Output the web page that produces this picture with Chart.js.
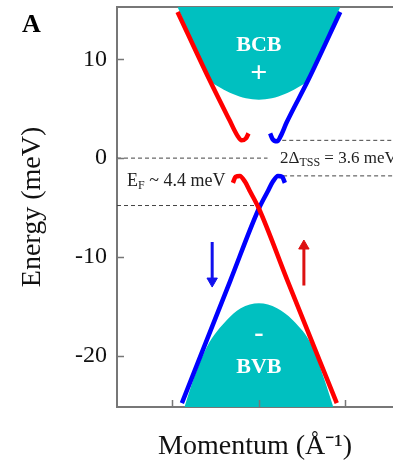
<!DOCTYPE html>
<html>
<head>
<meta charset="utf-8">
<script src="https://cdn.jsdelivr.net/npm/chart.js@4.4.1/dist/chart.umd.min.js"></script>
<style>
  body { margin: 0; background: #fff; overflow: hidden; }
  #wrap { width: 393px; height: 465px; }
</style>
</head>
<body>
<div id="wrap"><canvas id="chart"></canvas></div>
<script>
// axis ticks
const ticksX = [-1, 0, 1];
const ticksY = [-20, -10, 0, 10];

// surface state branches, momentum k and energy E (meV)
const redUpK = [-0.94, -0.57, -0.34, -0.25, -0.20, -0.15, -0.12];
const redUpE = [14.8, 7.9, 3.85, 2.3, 1.8, 2.0, 2.5];
const blueUpK = [0.13, 0.16, 0.21, 0.25, 0.32, 0.57, 0.94];
const blueUpE = [2.5, 1.9, 1.7, 2.2, 3.6, 7.9, 14.8];
const redLowK = [-0.30, -0.27, -0.22, -0.16, -0.10, 0, 0.33, 0.90];
const redLowE = [-2.5, -1.9, -1.8, -2.4, -3.4, -5.1, -12.4, -24.8];
const blueLowK = [-0.89, -0.33, 0, 0.10, 0.16, 0.22, 0.27, 0.30];
const blueLowE = [-24.8, -12.4, -5.1, -3.4, -2.4, -1.8, -1.9, -2.5];

// bulk bands (edge of the shaded areas)
const bcbK = [-0.94, -0.56, -0.44, -0.30, -0.15, 0, 0.15, 0.30, 0.44, 0.56, 0.94];
const bcbE = [15.3, 7.9, 7.1, 6.5, 6.05, 5.9, 6.05, 6.5, 7.1, 7.9, 15.3];
const bvbK = [-0.86, -0.76, -0.60, -0.37, -0.21, 0, 0.21, 0.39, 0.62, 0.76, 0.86];
const bvbE = [-25.2, -22.5, -19.1, -16.4, -15.2, -14.7, -15.2, -16.4, -19.1, -22.5, -25.2];

// dashed reference levels: [kFrom, kTo, E]
const levels = [
  [-1.64, 0.10, 0],
  [0.27, 1.55, 1.8],
  [0.28, 1.55, -1.8],
  [-1.64, 0.0, -4.8]
];

// spin arrows: k, E tail, E head
const spinDownArrow = [-0.54, -8.5, -12.45];
const spinUpArrow = [0.52, -12.9, -8.9];

const xMin = -1.64, xMax = 1.55, yMin = -25.2, yMax = 15.3;
const axisColor = '#777';
const teal = '#00c0c0';
const serif = "'Liberation Serif', 'Times New Roman', serif";

const pts = (ks, es) => ks.map((k, i) => ({ x: k, y: es[i] }));

function curve(ks, es, color) {
  return {
    data: pts(ks, es),
    borderColor: color,
    borderWidth: 4.5,
    pointRadius: 0,
    cubicInterpolationMode: 'monotone',
    fill: false,
    order: 1
  };
}

function band(ks, es, fill) {
  return {
    data: pts(ks, es),
    borderWidth: 0,
    borderColor: teal,
    backgroundColor: teal,
    pointRadius: 0,
    cubicInterpolationMode: 'monotone',
    fill: fill,
    order: 10
  };
}

const datasets = [
  band(bcbK, bcbE, 'end'),
  band(bvbK, bvbE, 'start'),
  curve(redUpK, redUpE, '#ff0000'),
  curve(blueUpK, blueUpE, '#0000ff'),
  curve(redLowK, redLowE, '#ff0000'),
  curve(blueLowK, blueLowE, '#0000ff')
];

levels.forEach(l => {
  datasets.push({
    data: [{ x: l[0], y: l[2] }, { x: l[1], y: l[2] }],
    borderColor: '#444',
    borderWidth: 1,
    borderDash: [4, 3],
    pointRadius: 0,
    fill: false,
    order: 5
  });
});

function arrow(a, color, rot) {
  return {
    data: [{ x: a[0], y: a[1] }, { x: a[0], y: a[2] }],
    borderColor: color,
    borderWidth: 3,
    pointRadius: [0, 6],
    pointStyle: 'triangle',
    rotation: rot,
    pointBackgroundColor: color,
    pointBorderColor: color,
    pointBorderWidth: 1,
    fill: false,
    order: 2
  };
}
datasets.push(arrow(spinDownArrow, '#1010ee', 180));
datasets.push(arrow(spinUpArrow, '#dd1111', 0));

const innerTicks = {
  id: 'innerTicks',
  afterDraw(chart) {
    const { ctx, chartArea: a, scales: { x, y } } = chart;
    ctx.save();
    ctx.strokeStyle = axisColor;
    ctx.lineWidth = 1.5;
    ctx.beginPath();
    ticksY.forEach(v => {
      const py = Math.round(y.getPixelForValue(v)) + 0.5;
      ctx.moveTo(a.left, py);
      ctx.lineTo(a.left + 7, py);
    });
    ticksX.forEach(v => {
      const px = Math.round(x.getPixelForValue(v)) + 0.5;
      ctx.moveTo(px, a.bottom);
      ctx.lineTo(px, a.bottom - 7);
    });
    ctx.stroke();
    ctx.restore();
  }
};

// text runs with optional subscripts: [text, size, dy]
function runs(ctx, x, y, parts) {
  parts.forEach(p => {
    ctx.font = p[1] + 'px ' + serif;
    ctx.fillText(p[0], x, y + p[2]);
    x += ctx.measureText(p[0]).width;
  });
}

const labels = {
  id: 'labels',
  afterDatasetsDraw(chart) {
    const { ctx, scales: { x, y } } = chart;
    const cx = x.getPixelForValue(0);
    ctx.save();
    ctx.fillStyle = '#fff';
    ctx.textAlign = 'center';
    ctx.textBaseline = 'middle';
    ctx.font = 'bold 22px ' + serif;
    ctx.fillText('BCB', cx, y.getPixelForValue(11.45));
    ctx.fillText('BVB', cx, y.getPixelForValue(-21.2));
    ctx.font = 'bold 30px ' + serif;
    ctx.fillText('+', cx, y.getPixelForValue(8.5));
    ctx.font = 'bold 28px ' + serif;
    ctx.fillText('-', cx, y.getPixelForValue(-17.8));

    ctx.fillStyle = '#222';
    ctx.textAlign = 'left';
    ctx.textBaseline = 'alphabetic';
    runs(ctx, 127, 186, [['E', 18, 0], ['F', 12, 3], [' ~ 4.4 meV', 18, 0]]);
    runs(ctx, 280, 163, [['2\u0394', 17, 0], ['TSS', 12, 3], [' = 3.6 meV', 17, 0]]);

    ctx.fillStyle = '#000';
    ctx.font = 'bold 26px ' + serif;
    ctx.fillText('A', 22, 32);
    ctx.restore();
  }
};

new Chart(document.getElementById('chart'), {
  type: 'line',
  data: { datasets },
  options: {
    responsive: true,
    maintainAspectRatio: false,
    animation: false,
    layout: { autoPadding: false, padding: { top: 7, left: 0, right: 0, bottom: 0 } },
    plugins: { legend: { display: false }, tooltip: { enabled: false } },
    scales: {
      x: {
        type: 'linear',
        position: 'bottom',
        min: xMin,
        max: xMax,
        afterBuildTicks: s => { s.ticks = ticksX.map(v => ({ value: v })); },
        afterFit: s => { s.height = 58; s.paddingLeft = 0; s.paddingRight = 0; },
        grid: { display: false, drawTicks: false },
        border: { display: true, color: axisColor, width: 2 },
        ticks: { display: false },
        title: {
          display: true,
          text: 'Momentum (\u00c5\u207b\u00b9)',
          color: '#111',
          font: { family: serif, size: 28 },
          padding: { top: 0, bottom: 2 }
        }
      },
      xTop: {
        type: 'linear',
        position: 'top',
        min: xMin,
        max: xMax,
        afterFit: s => { s.height = 0; s.paddingLeft = 0; s.paddingRight = 0; },
        grid: { display: false, drawTicks: false },
        border: { display: true, color: axisColor, width: 2 },
        ticks: { display: false }
      },
      y: {
        type: 'linear',
        position: 'left',
        min: yMin,
        max: yMax,
        afterBuildTicks: s => { s.ticks = ticksY.map(v => ({ value: v })); },
        afterFit: s => { s.width = 117; s.paddingTop = 0; s.paddingBottom = 0; },
        grid: { display: false, drawTicks: false },
        border: { display: true, color: axisColor, width: 2 },
        ticks: {
          color: '#111',
          padding: 10,
          font: { family: serif, size: 24 }
        },
        title: {
          display: true,
          text: 'Energy (meV)',
          color: '#111',
          font: { family: serif, size: 28 },
          padding: { top: 16, bottom: 0 }
        }
      }
    }
  },
  plugins: [innerTicks, labels]
});
</script>
</body>
</html>
